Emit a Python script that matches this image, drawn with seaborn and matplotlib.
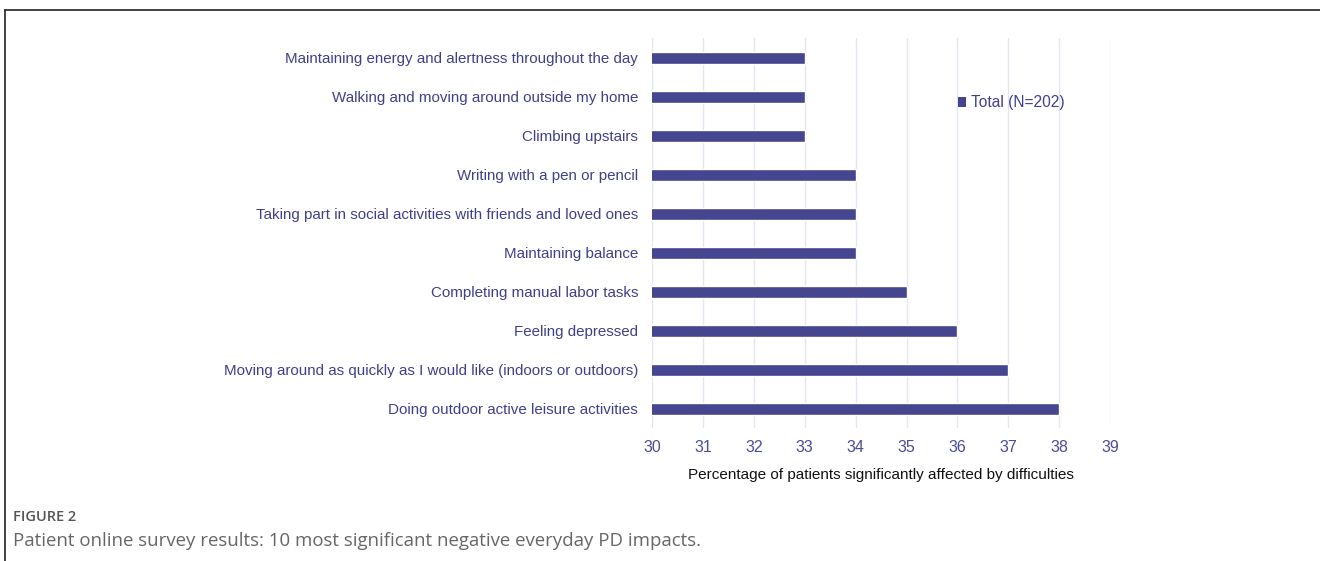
import matplotlib
matplotlib.use("Agg")
import matplotlib.pyplot as plt
from matplotlib.lines import Line2D
from matplotlib.patches import Patch
import pandas as pd
import seaborn as sns

impacts = [
    "Maintaining energy and alertness throughout the day",
    "Walking and moving around outside my home",
    "Climbing upstairs",
    "Writing with a pen or pencil",
    "Taking part in social activities with friends and loved ones",
    "Maintaining balance",
    "Completing manual labor tasks",
    "Feeling depressed",
    "Moving around as quickly as I would like (indoors or outdoors)",
    "Doing outdoor active leisure activities",
]
percent = [33, 33, 33, 34, 34, 34, 35, 36, 37, 38]
x_ticks = [30, 31, 32, 33, 34, 35, 36, 37, 38, 39]
series_name = "Total (N=202)"

bar_color = "#454590"
label_color = "#3f3f8c"
tick_color = "#4b4ba0"
grid_color = "#e6e6f3"

sns.set_theme(style="white")
plt.rcParams["font.family"] = ["Liberation Sans", "DejaVu Sans"]

df = pd.DataFrame({"impact": impacts, "percent": percent})

fig = plt.figure(figsize=(13.2, 5.61), dpi=100)
ax = fig.add_axes([0.494, 0.2362, 0.347, 0.6952])

sns.barplot(data=df, x="percent", y="impact", orient="h", color=bar_color,
            saturation=1, width=0.31, ax=ax)

ax.set_xlim(30, 39)
ax.set_xticks(x_ticks)
ax.set_ylim(9.5, -0.5)
for v in x_ticks:
    ax.axvline(v, color=grid_color, lw=1, zorder=0)
for s in ax.spines.values():
    s.set_visible(False)

ax.tick_params(axis="y", length=0, pad=10, labelsize=10.9, labelcolor=label_color)
ax.tick_params(axis="x", length=0, pad=8, labelsize=11.5, labelcolor=tick_color)
ax.set_ylabel("")
ax.set_xlabel("Percentage of patients significantly affected by difficulties",
              fontsize=11, color="#111111", labelpad=10)

handle = Patch(facecolor=bar_color, edgecolor="none")
leg = ax.legend([handle], [series_name], loc="center left",
                bbox_to_anchor=(0.637, 0.835), frameon=False,
                handlelength=0.55, handleheight=0.55, handletextpad=0.3,
                fontsize=11.2)
for t in leg.get_texts():
    t.set_color(label_color)

# frame of the figure panel
fig.add_artist(Line2D([0.004, 1.0], [0.982, 0.982], color="#333333", lw=1.3,
                      transform=fig.transFigure))
fig.add_artist(Line2D([0.004, 0.004], [0.0, 0.982], color="#333333", lw=1.3,
                      transform=fig.transFigure))

fig.text(0.0098, 0.078, "FIGURE 2", fontsize=10.5, color="#555555",
         fontweight="semibold", family=["Open Sans", "DejaVu Sans"], va="center")
fig.text(0.0098, 0.036,
         "Patient online survey results: 10 most significant negative everyday PD impacts.",
         fontsize=13.4, color="#666666", family=["Open Sans", "DejaVu Sans"],
         va="center")

fig.savefig("out.png", dpi=100)
